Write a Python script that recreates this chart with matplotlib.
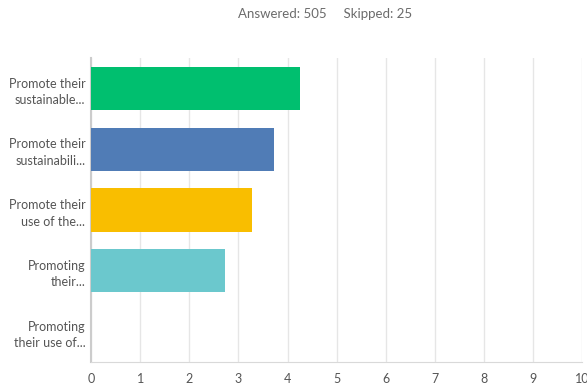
import matplotlib.pyplot as plt

# survey answers, top to bottom
labels = [
    "Promote their\nsustainable...",
    "Promote their\nsustainabili...",
    "Promote their\nuse of the...",
    "Promoting\ntheir...",
    "Promoting\ntheir use of...",
]
values = [4.26, 3.73, 3.28, 2.73, 0]
colors = ["#00BF6F", "#507CB6", "#F9BE00", "#6BC8CD", "#DADADA"]
xticks = list(range(0, 11))

plt.rcParams['font.family'] = ['Lato', 'DejaVu Sans']
text_color = "#555555"

fig = plt.figure(figsize=(5.87, 3.85), dpi=100)
ax = fig.add_axes([0.155, 0.06, 0.837, 0.789])

pos = list(range(len(labels)))
ax.barh(pos, values, height=0.71, color=colors, zorder=3)
ax.set_ylim(len(labels) - 0.5, -0.5)
ax.set_xlim(0, 10)
ax.set_yticks(pos)
ax.set_yticklabels(labels, fontsize=9, color=text_color, linespacing=1.45)
ax.set_xticks(xticks)
ax.set_xticklabels([str(t) for t in xticks], fontsize=9, color=text_color)

ax.grid(axis="x", color="#e6e6e6", linewidth=1, zorder=0)
ax.tick_params(axis="y", length=0, pad=4)
ax.tick_params(axis="x", length=0, pad=8)
for side in ["top", "right"]:
    ax.spines[side].set_visible(False)
ax.spines["left"].set_color("#cccccc")
ax.spines["bottom"].set_color("#d9d9d9")
ax.spines["left"].set_linewidth(1.5)

fig.text(0.553, 0.963, "Answered: 505     Skipped: 25", ha="center", va="center",
         fontsize=9.5, color="#6b6b6b")

plt.savefig("out.png", dpi=100)
plt.close()
